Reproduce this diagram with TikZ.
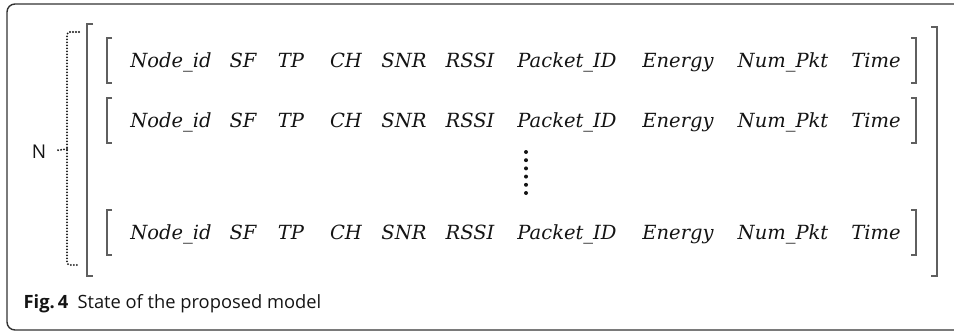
\documentclass[tikz,border=0pt]{standalone}
\usepackage{fontspec}
\usetikzlibrary{calc}
\setmainfont{DejaVu Serif}
\setsansfont{Open Sans}
\definecolor{fgray}{RGB}{50,50,50}
\definecolor{bgray}{RGB}{95,95,95}
\definecolor{tdark}{RGB}{20,20,20}

\begin{document}
\begin{tikzpicture}[x=1pt,y=-1pt,line width=1.4pt,
  field/.style={anchor=base,inner sep=0pt,text=tdark,font=\fontsize{19.5}{19.5}\selectfont\itshape},
  brk/.style={bgray,line width=1.5pt},
  dotbrace/.style={tdark,line width=2.1pt,line cap=round,dash pattern=on 0pt off 3pt}]
  \useasboundingbox (0,0) rectangle (954,332);
  \draw[fgray,rounded corners=8pt] (7,4) rectangle (975,330);
  % outer brackets
  \coordinate (OLt) at (87,24);
  \coordinate (OLb) at (87,276);
  \coordinate (ORt) at (937,27);
  \coordinate (ORb) at (937,276);
  \draw[brk] ($(OLt)+(6,0)$) -- (OLt) -- (OLb) -- ++(6,0);
  \draw[brk] ($(ORt)+(-6,0)$) -- (ORt) -- (ORb) -- ++(-6,0);
  % rows of fields
  \foreach \r/\y in {1/67,2/127,3/239}{
    \foreach \w/\x [count=\i] in {Node\_id/171,SF/243,TP/291,CH/346,SNR/404,
        RSSI/470,Packet\_ID/567,Energy/678,Num\_Pkt/783,Time/876}
      \node[field] (r\r-\i) at (\x,\y) {\w};
    \draw[brk] (112,\y-29) -- (107,\y-29) -- (107,\y+16) -- (112,\y+16);
    \draw[brk] (911,\y-29) -- (916,\y-29) -- (916,\y+16) -- (911,\y+16);
  }
  % vertical dots
  \foreach \k in {0,...,5}
    \fill[tdark] (526,152+8.2*\k) circle (2pt);
  % dotted brace and N
  \coordinate (bt) at (79,32);
  \coordinate (bm) at (67,149);
  \coordinate (bb) at (79,265);
  \draw[dotbrace,rounded corners=3pt] (bt) -| (bm) |- (bb);
  \node[font=\sffamily\fontsize{19}{19}\selectfont,text=tdark,anchor=base,inner sep=0pt] (N) at (39,158) {N};
  \draw[dotbrace] (bm) -- ($(N.east)+(11,-1)$);
  % caption
  \node[anchor=base west,inner sep=0pt,text=tdark,font=\sffamily\fontsize{18.3}{18.3}\selectfont] (cap) at (23,308)
    {\textbf{Fig.\,4}\hspace{0.5em}State of the proposed model};
\end{tikzpicture}
\end{document}
